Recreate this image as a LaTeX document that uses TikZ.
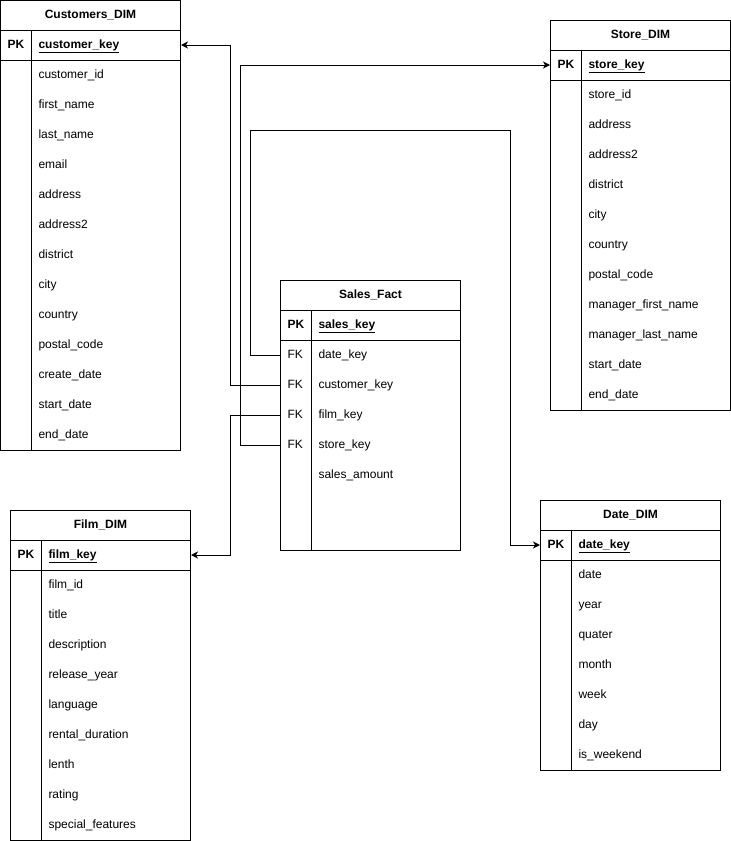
\documentclass[tikz,border=0pt]{standalone}
\usepackage{fontspec}
\setmainfont{Liberation Sans}
\usetikzlibrary{arrows.meta}

\begin{document}
\begin{tikzpicture}[x=1pt, y=-1pt, line width=1pt,
  font=\fontsize{12}{14}\selectfont,
  tbl/.style={draw, anchor=north west, minimum width=180pt, inner sep=0pt},
  hdr/.style={draw, anchor=north west, minimum width=180pt, minimum height=30pt, inner sep=0pt, text height=9pt, text depth=3pt, font=\fontsize{12}{14}\selectfont\bfseries},
  keycell/.style={anchor=west, minimum height=30pt, text width=16pt, text height=9pt, text depth=3pt, inner xsep=7pt, inner ysep=0pt, align=left},
  pk/.style={keycell, font=\fontsize{12}{14}\selectfont\bfseries},
  fieldcell/.style={anchor=west, minimum height=30pt, text width=134pt, text height=9pt, text depth=3pt, inner xsep=8pt, inner ysep=0pt, align=left},
  link/.style={-{Stealth[length=7pt, width=7pt, inset=2pt]}}]
\useasboundingbox (0,0) rectangle (731,841);

% Customers_DIM
\node[tbl, minimum height=450pt] (cust) at (0,0) {};
\node[hdr] (cust-h) at (cust.north west) {Customers\_DIM};
\node[pk] (cust-k0) at ([shift={(0,45)}]cust.north west) {PK};
\node[fieldcell] (cust-f0) at ([shift={(30,45)}]cust.north west) {\underline{\textbf{customer\_key}}};
\foreach \t [count=\i] in {customer\_id, first\_name, last\_name, email, address, address2, district, city, country, postal\_code, create\_date, start\_date, end\_date}
  \node[fieldcell] (cust-f\i) at ([shift={(30,45+30*\i)}]cust.north west) {\t};
\draw (cust-k0.south west) -- (cust-f0.south east);
\draw (cust-k0.north east) -- (cust-k0.north east |- cust.south);

% Store_DIM
\node[tbl, minimum height=390pt] (store) at (550,20) {};
\node[hdr] (store-h) at (store.north west) {Store\_DIM};
\node[pk] (store-k0) at ([shift={(0,45)}]store.north west) {PK};
\node[fieldcell] (store-f0) at ([shift={(30,45)}]store.north west) {\underline{\textbf{store\_key}}};
\foreach \t [count=\i] in {store\_id, address, address2, district, city, country, postal\_code, manager\_first\_name, manager\_last\_name, start\_date, end\_date}
  \node[fieldcell] (store-f\i) at ([shift={(30,45+30*\i)}]store.north west) {\t};
\draw (store-k0.south west) -- (store-f0.south east);
\draw (store-k0.north east) -- (store-k0.north east |- store.south);

% Sales_Fact
\node[tbl, minimum height=270pt] (sales) at (280,280) {};
\node[hdr] (sales-h) at (sales.north west) {Sales\_Fact};
\node[pk] (sales-k0) at ([shift={(0,45)}]sales.north west) {PK};
\node[fieldcell] (sales-f0) at ([shift={(30,45)}]sales.north west) {\underline{\textbf{sales\_key}}};
\foreach \i in {1,...,4}
  \node[keycell] (sales-k\i) at ([shift={(0,45+30*\i)}]sales.north west) {FK};
\foreach \t [count=\i] in {date\_key, customer\_key, film\_key, store\_key, sales\_amount}
  \node[fieldcell] (sales-f\i) at ([shift={(30,45+30*\i)}]sales.north west) {\t};
\draw (sales-k0.south west) -- (sales-f0.south east);
\draw (sales-k0.north east) -- (sales-k0.north east |- sales.south);

% Film_DIM
\node[tbl, minimum height=330pt] (film) at (10,510) {};
\node[hdr] (film-h) at (film.north west) {Film\_DIM};
\node[pk] (film-k0) at ([shift={(0,45)}]film.north west) {PK};
\node[fieldcell] (film-f0) at ([shift={(30,45)}]film.north west) {\underline{\textbf{film\_key}}};
\foreach \t [count=\i] in {film\_id, title, description, release\_year, language, rental\_duration, lenth, rating, special\_features}
  \node[fieldcell] (film-f\i) at ([shift={(30,45+30*\i)}]film.north west) {\t};
\draw (film-k0.south west) -- (film-f0.south east);
\draw (film-k0.north east) -- (film-k0.north east |- film.south);

% Date_DIM
\node[tbl, minimum height=270pt] (date) at (540,500) {};
\node[hdr] (date-h) at (date.north west) {Date\_DIM};
\node[pk] (date-k0) at ([shift={(0,45)}]date.north west) {PK};
\node[fieldcell] (date-f0) at ([shift={(30,45)}]date.north west) {\underline{\textbf{date\_key}}};
\foreach \t [count=\i] in {date, year, quater, month, week, day, is\_weekend}
  \node[fieldcell] (date-f\i) at ([shift={(30,45+30*\i)}]date.north west) {\t};
\draw (date-k0.south west) -- (date-f0.south east);
\draw (date-k0.north east) -- (date-k0.north east |- date.south);

% Links
\draw[link] (sales-k1.west) -| (250,130) -| ([xshift=-30pt]date-k0.west) -- (date-k0.west);
\draw[link] (sales-k2.west) -- ++(-50,0) |- (cust-f0.east);
\draw[link] (sales-k3.west) -- ++(-50,0) |- (film-f0.east);
\draw[link] (sales-k4.west) -- ++(-40,0) |- (store-k0.west);
\end{tikzpicture}
\end{document}
